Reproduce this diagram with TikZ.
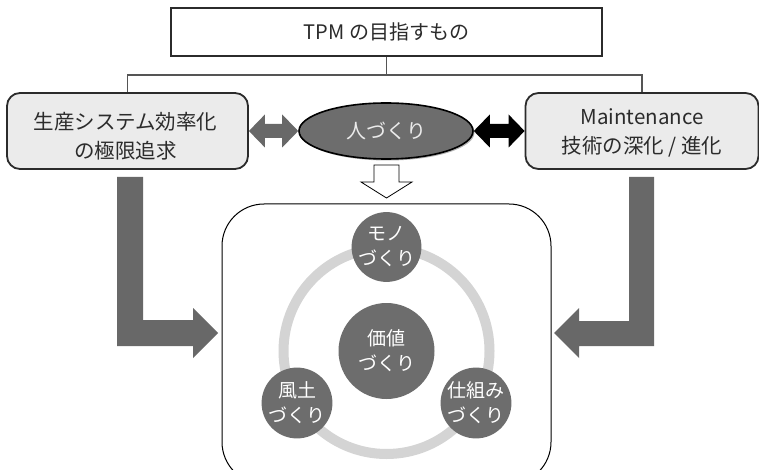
\documentclass[tikz,border=0pt]{standalone}
\usepackage{fontspec}
\setmainfont{Noto Sans CJK JP}
\usetikzlibrary{shapes.geometric,calc}
\definecolor{boxfill}{HTML}{EBEBEB}
\definecolor{txtdark}{HTML}{2B2B2B}
\definecolor{linegray}{HTML}{555555}
\definecolor{arrgray}{HTML}{686868}
\definecolor{circgray}{HTML}{6D6D6D}
\definecolor{ringgray}{HTML}{D4D4D4}
\newcommand\mydblarrow[3]{%
  \fill[#3] (#1) -- ($(#1)+(16,-16.5)$) -- ($(#1)+(16,-7)$) -- ($(#2)+(-16,-7)$)
    -- ($(#2)+(-16,-16.5)$) -- (#2) -- ($(#2)+(-16,16.5)$) -- ($(#2)+(-16,7)$)
    -- ($(#1)+(16,7)$) -- ($(#1)+(16,16.5)$) -- cycle;}
\begin{document}
\begin{tikzpicture}[x=1pt,y=-1pt,
  topbox/.style={draw=txtdark,line width=1.2pt,fill=white,minimum width=431,minimum height=48,inner sep=0,text=txtdark,font=\fontsize{20}{26}\selectfont},
  sidebox/.style={draw=txtdark,line width=1.8pt,fill=boxfill,rounded corners=13pt,minimum height=76,inner sep=0},
  boxtext/.style={inner sep=0,text=txtdark,align=center,font=\fontsize{20.5}{28.5}\selectfont},
  conn/.style={draw=linegray,line width=1.2pt},
  smallcirc/.style={circle,fill=circgray,minimum size=68,inner sep=0,text=white,align=center,font=\fontsize{19}{25}\selectfont},
  bigcirc/.style={circle,fill=circgray,minimum size=96,inner sep=0,text=white,align=center,font=\fontsize{19}{25}\selectfont}
]
\clip (0,0) rectangle (759,470);
\fill[white] (0,0) rectangle (759,470);
% top box and tree
\node[topbox] (top) at (386.5,32) {TPM の目指すもの};
\node[sidebox,minimum width=241] (lbox) at (127.5,131) {};
\node[boxtext] (ltext) at ($(lbox.center)+(-2,5)$) {生産システム効率化\\の極限追求};
\node[sidebox,minimum width=233] (rbox) at (642,131) {};
\node[boxtext] (rtext) at ($(rbox.center)+(0,2)$) {Maintenance\\技術の深化 / 進化};
\coordinate (j) at (386.5,75);
\draw[conn] (top.south) -- (j);
\draw[conn] (lbox.north) |- (j) -| (rbox.north);
% ellipse
\fill[gray!60] (387.5,132.5) ellipse[x radius=87,y radius=28];
\node[ellipse,draw=black,line width=1.6pt,fill=circgray,minimum width=174,minimum height=56,inner sep=0,text=white!92!black,font=\fontsize{20}{26}\selectfont] (ell) at (386,131) {人づくり};
% double arrows
\mydblarrow{lbox.east}{ell.west}{arrgray}
\mydblarrow{ell.east}{rbox.west}{black}
% big frame
\draw[black,line width=1pt,rounded corners=42pt] (222,204) rectangle (551,484);
\coordinate (bigW) at (222,333);
\coordinate (bigE) at (551,333);
% white down arrow
\coordinate (wtip) at (386.5,198);
\draw[black,line width=0.8pt,fill=white] (374,165) -- (399,165) -- (399,182) -- (412,182) -- (wtip) -- (361,182) -- (374,182) -- cycle;
% L arrows
\fill[arrgray] ($(lbox.south)+(-10.5,7)$) -- ($(lbox.south)+(15.5,7)$) -- (143,320) -- (193,320) -- (193,308) -- ($(bigW)+(-4,0)$) -- (193,358) -- (193,346) -- (117,346) -- cycle;
\fill[arrgray] ($(rbox.south)+(12,7)$) -- ($(rbox.south)+(-13,7)$) -- (629,321) -- (579,321) -- (579,308) -- ($(bigE)+(3,0)$) -- (579,358) -- (579,346) -- (654,346) -- cycle;
% ring and circles
\draw[ringgray,line width=10pt] (386.5,351) circle[radius=103];
\node[bigcirc] (kachi) at (386.5,351) {価値\\づくり};
\node[smallcirc] (mono) at (386.5,247) {モノ\\づくり};
\node[smallcirc] (fudo) at (297,403) {風土\\づくり};
\node[smallcirc] (shikumi) at (476,403) {仕組み\\づくり};
\end{tikzpicture}
\end{document}
